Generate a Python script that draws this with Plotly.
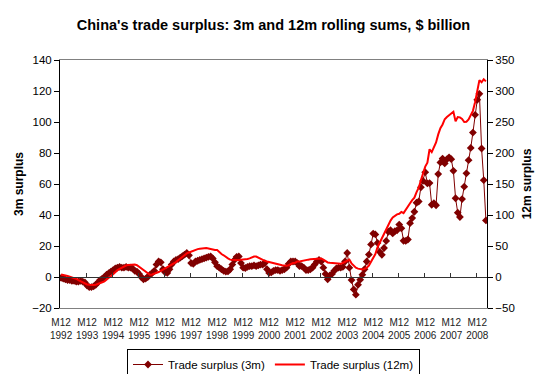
import plotly.graph_objects as go

# ---- data (monthly, Dec 1992 .. Apr 2009), $ billion ----
surplus_3m = [
    -0.5, -1, -1.5, -2, -2, -2.5, -2.5, -3, -3, -2.5, -3, -3.5,
    -5.5, -6.5, -6.5, -6, -5, -3.5, -2, -1, 0, 1.5, 2.5, 3.5,
    4.5, 5.5, 6, 6.5, 6, 6, 6.5, 6, 6, 5.5, 4, 3.5,
    2, 0, -1.5, -1, 0, 1.5, 2.5, 4, 8, 10, 9.5, 5,
    3, 2.6, 5, 8, 10, 11, 11.5, 12.5, 13.5, 14.5, 15.5, 14,
    9, 8.5, 10, 10.5, 11, 11.5, 12, 12.5, 13, 13.3, 12, 9.5,
    7, 6, 5, 4, 3.5, 3.6, 5, 8, 11, 13, 13.3, 9,
    6, 5.8, 6.5, 7, 7, 7.5, 7, 7.5, 8, 8, 9, 5,
    2.6, 3, 4, 4.5, 4.5, 4, 4.5, 5, 6, 8.5, 10, 10,
    10, 9, 7, 7, 6, 4.5, 4.5, 5, 6, 8, 10, 11,
    10, 6, 2, -1.5, 1, 2, 4, 5.5, 6, 6, 6.5, 10,
    15.5, 6, -2, -8, -11.4, -5, -1.7, 1.5, 5, 10, 14.5, 21, 28, 27.5, 22,
    16.2, 14.3, 18.7, 23.3, 29.2, 30.2, 28.1, 29.6, 30.1, 33.8,
    31.4, 23.4, 23.3, 24.2, 34.7, 38, 42.1, 47.9, 48.7, 57.9,
    62, 67.6, 60.4, 60.6, 46.6, 47.6, 46.3, 66.4, 73.9, 76.4,
    73.3, 75.9, 77.2, 76, 68.5, 50.8, 41.5, 38.7, 50.3, 58.3,
    66.9, 75.4, 83.3, 93.2, 104.6, 114.3, 118.2, 82.9, 62.5, 36.5,
]

surplus_12m = [
    4, 3.5, 2.5, 1.5, 0.5, -0.5, -1.5, -3, -5, -7, -9, -10.5,
    -12, -12.5, -13, -13, -12.5, -11.5, -10, -8.5, -7, -4.5, -1.5, 1.5,
    4.5, 8, 11, 13, 15, 17, 18.5, 19.5, 20, 20, 20, 19,
    16.5, 14, 11, 8, 5, 3.7, 4, 5, 6.4, 8, 10, 12,
    13, 15, 17, 19, 21.5, 24, 27, 30, 33, 36, 38, 39.5,
    41, 43, 44, 45, 45.5, 46, 46.5, 46.7, 46, 45, 44, 43.5,
    43.5, 40, 37, 35, 32, 30, 28, 27.5, 27, 26.6, 27, 28,
    28, 28, 29, 30, 32, 33, 33, 31, 29, 27, 26, 25,
    24, 23, 22.6, 22, 21, 20, 19, 18.5, 18, 19, 21, 22.5,
    23, 25, 25, 26, 27, 28, 28, 28.5, 29, 29.5, 29.5, 30,
    30, 28, 25, 23.5, 23, 22.5, 22, 21.5, 21.5, 21.5, 22.6, 24,
    26, 28, 22, 18, 15, 13.5, 12.5, 12, 13, 15, 18.5, 24, 30, 37, 48,
    55, 62, 70, 78, 85, 91, 96, 99, 101, 102,
    105, 103, 109, 115, 119, 124, 128, 137, 144, 156,
    169, 178, 184.5, 206, 201.5, 208, 217, 230, 240, 246,
    254.5, 258, 261, 263, 266.5, 251, 258, 257.5, 255, 250,
    250.5, 254, 260, 268, 282, 298, 317.5, 314, 319, 315.5,
]

tick_years = list(range(1992, 2009))
tick_month = "M12"

# ---- figure ----
FONT = "Arial, Liberation Sans, sans-serif"
n = len(surplus_3m)
idx = list(range(n))
label_pos = [12 * k for k in range(len(tick_years))]
label_txt = [f"{tick_month}<br>{y}" for y in tick_years]
bound_pos = [12 * k - 0.5 for k in range(len(tick_years))]

fig = go.Figure()
fig.add_trace(go.Scatter(
    x=idx, y=surplus_3m, name="Trade surplus (3m)",
    mode="lines+markers",
    line=dict(color="#800000", width=1),
    marker=dict(symbol="diamond", size=6, color="#800000"),
    xaxis="x", yaxis="y",
))
fig.add_trace(go.Scatter(
    x=idx, y=surplus_12m, name="Trade surplus (12m)",
    mode="lines",
    line=dict(color="#FF0000", width=2),
    xaxis="x", yaxis="y2",
))
# helper (invisible) trace to carry the axis drawn through zero
fig.add_trace(go.Scatter(
    x=[idx[0]], y=[None], mode="lines", showlegend=False,
    hoverinfo="skip", xaxis="x2", yaxis="y",
))

fig.update_layout(
    width=547, height=374,
    margin=dict(l=60, r=60, t=60, b=66, autoexpand=False),
    paper_bgcolor="white", plot_bgcolor="white",
    font=dict(family=FONT, color="black"),
    title=dict(
        text="<b>China's trade surplus: 3m and 12m rolling sums, $ billion</b>",
        x=0.5, xanchor="center", xref="container",
        y=(374 - 25) / 374, yanchor="middle", yref="container",
        font=dict(size=14.5, family=FONT, color="black"),
    ),
    xaxis=dict(
        range=[-0.5, n - 0.5], automargin=False,
        tickmode="array", tickvals=label_pos, ticktext=label_txt,
        ticks="", ticklabelstandoff=5,
        tickfont=dict(size=10, family=FONT, color="#222"),
        showgrid=False, zeroline=False,
        showline=True, linecolor="#808080", linewidth=1, mirror=True,
    ),
    xaxis2=dict(
        range=[-0.5, n - 0.5], overlaying="x", anchor="free", position=0.125,
        automargin=False,
        tickmode="array", tickvals=bound_pos, ticks="inside", ticklen=4,
        tickcolor="#333", showticklabels=False, showgrid=False, zeroline=False,
        showline=True, linecolor="#333", linewidth=1,
    ),
    yaxis=dict(
        range=[-20, 140], dtick=20, tick0=0, automargin=False,
        ticks="outside", ticklen=5, tickcolor="black",
        tickfont=dict(size=11.5, family=FONT, color="black"),
        showgrid=False, zeroline=False,
        showline=True, linecolor="black", linewidth=1,
        title=dict(text="<b>3m surplus</b>", font=dict(size=12, family=FONT),
                   standoff=5),
    ),
    yaxis2=dict(
        range=[-50, 350], dtick=50, tick0=0, overlaying="y", side="right",
        automargin=False,
        ticks="outside", ticklen=5, tickcolor="black",
        tickfont=dict(size=11.5, family=FONT, color="black"),
        showgrid=False, zeroline=False,
        showline=True, linecolor="black", linewidth=1,
        title=dict(text="<b>12m surplus</b>", font=dict(size=12, family=FONT),
                   standoff=8),
    ),
    legend=dict(
        orientation="h", x=0.5, xanchor="center",
        y=-(349 - 308) / 248, yanchor="top",
        font=dict(size=11.5, family=FONT, color="black"),
        bordercolor="black", borderwidth=1, bgcolor="white",
        itemwidth=30, tracegroupgap=0,
    ),
    showlegend=True,
)

fig.write_html("out.html", config={"displayModeBar": False},
               post_script="document.body.style.margin='0';")
